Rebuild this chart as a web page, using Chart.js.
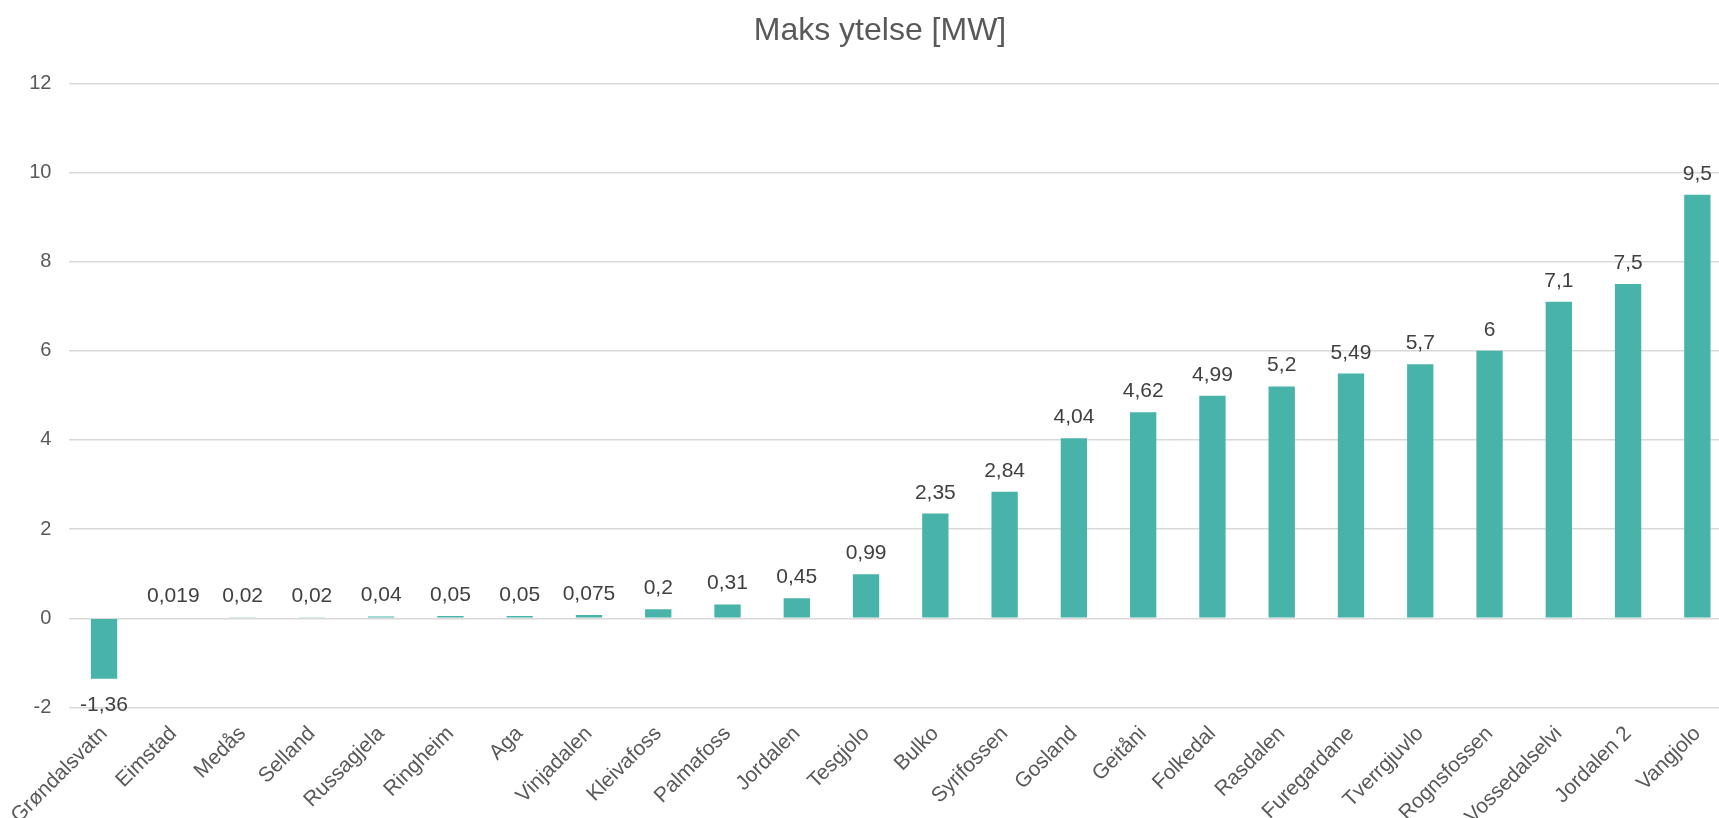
<!DOCTYPE html>
<html>
<head>
<meta charset="utf-8">
<script src="https://cdn.jsdelivr.net/npm/chart.js@4"></script>
<style>
  html, body { margin: 0; padding: 0; background: #fff; overflow: hidden; }
  #wrap { width: 1760px; height: 818px; }
</style>
</head>
<body>
<div id="wrap"><canvas id="myBarChart"></canvas></div>
<script>
// Data
var categories = ['Grøndalsvatn', 'Eimstad', 'Medås', 'Selland', 'Russagjela', 'Ringheim', 'Aga',
    'Vinjadalen', 'Kleivafoss', 'Palmafoss', 'Jordalen', 'Tesgjolo', 'Bulko', 'Syrifossen', 'Gosland',
    'Geitåni', 'Folkedal', 'Rasdalen', 'Furegardane', 'Tverrgjuvlo', 'Rognsfossen', 'Vossedalselvi',
    'Jordalen 2', 'Vangjolo'];
var values = [-1.36, 0.019, 0.02, 0.02, 0.04, 0.05, 0.05, 0.075, 0.2, 0.31, 0.45, 0.99, 2.35, 2.84,
    4.04, 4.62, 4.99, 5.2, 5.49, 5.7, 6, 7.1, 7.5, 9.5];
var yTicks = [-2, 0, 2, 4, 6, 8, 10, 12];

function fmt(v) { return String(v).replace('.', ','); }

// draws the value above (or below, when negative) each bar
var valueLabels = {
    id: 'valueLabels',
    afterDatasetsDraw: function(chart) {
        var ctx = chart.ctx;
        var meta = chart.getDatasetMeta(0);
        ctx.save();
        ctx.font = '21px "Liberation Sans", Arial, sans-serif';
        ctx.fillStyle = '#404040';
        ctx.textAlign = 'center';
        meta.data.forEach(function(bar, i) {
            var v = values[i];
            if (v < 0) {
                ctx.textBaseline = 'top';
                ctx.fillText(fmt(v), bar.x, bar.y + 16);
            } else {
                ctx.textBaseline = 'alphabetic';
                ctx.fillText(fmt(v), bar.x, bar.y - 15);
            }
        });
        ctx.restore();
    }
};

var ctx = document.getElementById('myBarChart').getContext('2d');
var myBarChart = new Chart(ctx, {
    type: 'bar',
    data: {
        labels: categories,
        datasets: [{
            label: 'Maks ytelse [MW]',
            data: values,
            backgroundColor: '#48b3a9',
            borderWidth: 0,
            barPercentage: 0.38,
            categoryPercentage: 1
        }]
    },
    options: {
        responsive: true,
        maintainAspectRatio: false,
        animation: false,
        layout: { padding: { left: 28, right: 28, top: 0, bottom: 0 } },
        plugins: {
            legend: { display: false },
            tooltip: { enabled: false },
            title: {
                display: true,
                text: 'Maks ytelse [MW]',
                color: '#595959',
                font: { family: '"Liberation Sans", Arial, sans-serif', size: 32, weight: 'normal' },
                padding: { top: 12, bottom: 33 }
            }
        },
        scales: {
            x: {
                grid: { display: false },
                border: { display: false },
                ticks: {
                    autoSkip: false,
                    maxRotation: 45,
                    minRotation: 45,
                    padding: 6,
                    color: '#595959',
                    font: { family: '"Liberation Sans", Arial, sans-serif', size: 21 }
                },
                afterFit: function(scale) { scale.height = 818 - 707.4; }
            },
            y: {
                min: -2,
                max: 12,
                afterBuildTicks: function(scale) {
                    scale.ticks = yTicks.map(function(v) { return { value: v }; });
                },
                grid: { color: '#d9d9d9', lineWidth: 1.5, drawTicks: false },
                border: { display: false },
                ticks: {
                    padding: 18,
                    color: '#595959',
                    font: { family: '"Liberation Sans", Arial, sans-serif', size: 20 }
                },
                afterFit: function(scale) { scale.width = 69.4 - 28; }
            }
        }
    },
    plugins: [valueLabels]
});
</script>
</body>
</html>
